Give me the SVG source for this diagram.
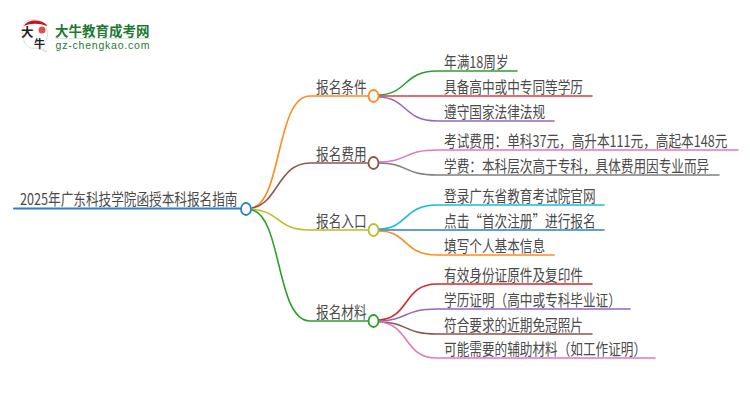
<svg xmlns="http://www.w3.org/2000/svg" width="750" height="410" viewBox="0 0 750 410">
<style>
.t{font-family:"Noto Sans CJK SC","Liberation Sans",sans-serif;font-size:16px;fill:#4a4a4a}
.c{fill:none;stroke-width:1.600;stroke-linecap:round}
.n{fill:#fff;stroke-width:1.800}
</style>
<rect width="750" height="410" fill="#fff"/>
<g id="logo">
<path d="M25 22C34 17 45 20 47 30C49 38 45 44 40 46L47 52L37 48C28 50 23 43 23 35C23 30 23 26 25 22Z" fill="#fff" stroke="#ddd"/>
<path d="M24 26C28 19 40 19 47 25L47 26C39 23 31 23 24 26Z" fill="#c8161d"/>
<circle cx="42" cy="30" r="3.500" fill="#d85050"/>
<text x="21" y="37" font-family="'Noto Sans CJK SC',sans-serif" font-size="12.500" font-weight="700" fill="#222">大</text>
<text x="34" y="48" font-family="'Noto Sans CJK SC',sans-serif" font-size="11" font-weight="700" fill="#222">牛</text>
<text x="55" y="36" font-family="'Noto Sans CJK SC',sans-serif" font-size="13.500" font-weight="700" fill="#1d7a32">大牛教育成考网</text>
<path d="M55 38.500H150" stroke="#dde8dd" fill="none"/>
<text x="55.500" y="49" font-family="'Liberation Sans',sans-serif" font-size="10.500" fill="#1d7a32" textLength="94">gz-chengkao.com</text>
</g>
<g id="connectors">
<path class="c" style="stroke-width:2" stroke="#2f7fc1" d="M14 208.500H241"/>
<path class="c" stroke="#ff8a1e" d="M252 208C282 202 276 96 310 96H368"/>
<path class="c" stroke="#8c564b" d="M252 208C278 204 278 163 310 163H368"/>
<path class="c" stroke="#bcbd22" d="M252 209C282 212 276 230 310 230H368"/>
<path class="c" stroke="#2ca02c" d="M252 210C282 216 276 321 310 321H368"/>
<path class="c" stroke="#2ca02c" d="M379 95C408 94 403 71 437 71H517"/>
<path class="c" stroke="#e03c3c" d="M379 96H592"/>
<path class="c" stroke="#9467bd" d="M379 97C408 98 403 121 437 121H554"/>
<path class="c" stroke="#e377c2" d="M379 162C408 162 403 150 437 150H738"/>
<path class="c" stroke="#7f7f7f" d="M379 163C408 163 403 175 437 175H719"/>
<path class="c" stroke="#17becf" d="M379 229C408 229 403 205 437 205H604"/>
<path class="c" stroke="#2f7fc1" d="M379 230H604"/>
<path class="c" stroke="#ff8a1e" d="M379 231C408 231 403 255 437 255H554"/>
<path class="c" stroke="#d62728" d="M379 320C410 318 403 284 437 284H592"/>
<path class="c" stroke="#9467bd" d="M379 321C408 320 403 309 437 309H630"/>
<path class="c" stroke="#8c564b" d="M379 322C408 322 403 334 437 334H592"/>
<path class="c" stroke="#e377c2" d="M379 322C410 324 403 358 437 358H655"/>
</g>
<g id="root"><ellipse class="n" stroke="#2f7fc1" cx="246" cy="209" rx="5" ry="6"/><text class="t" transform="translate(20,205) scale(.79,1)">2025年广东科技学院函授本科报名指南</text></g>
<g id="b1"><ellipse class="n" stroke="#ff8a1e" cx="373.500" cy="96" rx="5" ry="6"/><text class="t" transform="translate(316,93) scale(.79,1)">报名条件</text></g>
<g id="b2"><ellipse class="n" stroke="#8c564b" cx="373.500" cy="163" rx="5" ry="6"/><text class="t" transform="translate(316,160) scale(.79,1)">报名费用</text></g>
<g id="b3"><ellipse class="n" stroke="#bcbd22" cx="373.500" cy="230" rx="5" ry="6"/><text class="t" transform="translate(316,227) scale(.79,1)">报名入口</text></g>
<g id="b4"><ellipse class="n" stroke="#2ca02c" cx="373.500" cy="321" rx="5" ry="6"/><text class="t" transform="translate(316,318) scale(.79,1)">报名材料</text></g>
<g id="l1"><text class="t" transform="translate(444,68) scale(.79,1)">年满18周岁</text></g>
<g id="l2"><text class="t" transform="translate(444,93) scale(.79,1)">具备高中或中专同等学历</text></g>
<g id="l3"><text class="t" transform="translate(444,118) scale(.79,1)">遵守国家法律法规</text></g>
<g id="l4"><text class="t" transform="translate(444,147) scale(.79,1)">考试费用：单科37元，高升本111元，高起本148元</text></g>
<g id="l5"><text class="t" transform="translate(444,172) scale(.79,1)">学费：本科层次高于专科，具体费用因专业而异</text></g>
<g id="l6"><text class="t" transform="translate(444,202) scale(.79,1)">登录广东省教育考试院官网</text></g>
<g id="l7"><text class="t" transform="translate(444,227) scale(.79,1)">点击“首次注册”进行报名</text></g>
<g id="l8"><text class="t" transform="translate(444,252) scale(.79,1)">填写个人基本信息</text></g>
<g id="l9"><text class="t" transform="translate(444,281) scale(.79,1)">有效身份证原件及复印件</text></g>
<g id="l10"><text class="t" transform="translate(444,306) scale(.79,1)">学历证明（高中或专科毕业证）</text></g>
<g id="l11"><text class="t" transform="translate(444,331) scale(.79,1)">符合要求的近期免冠照片</text></g>
<g id="l12"><text class="t" transform="translate(444,355) scale(.79,1)">可能需要的辅助材料（如工作证明）</text></g>
</svg>
